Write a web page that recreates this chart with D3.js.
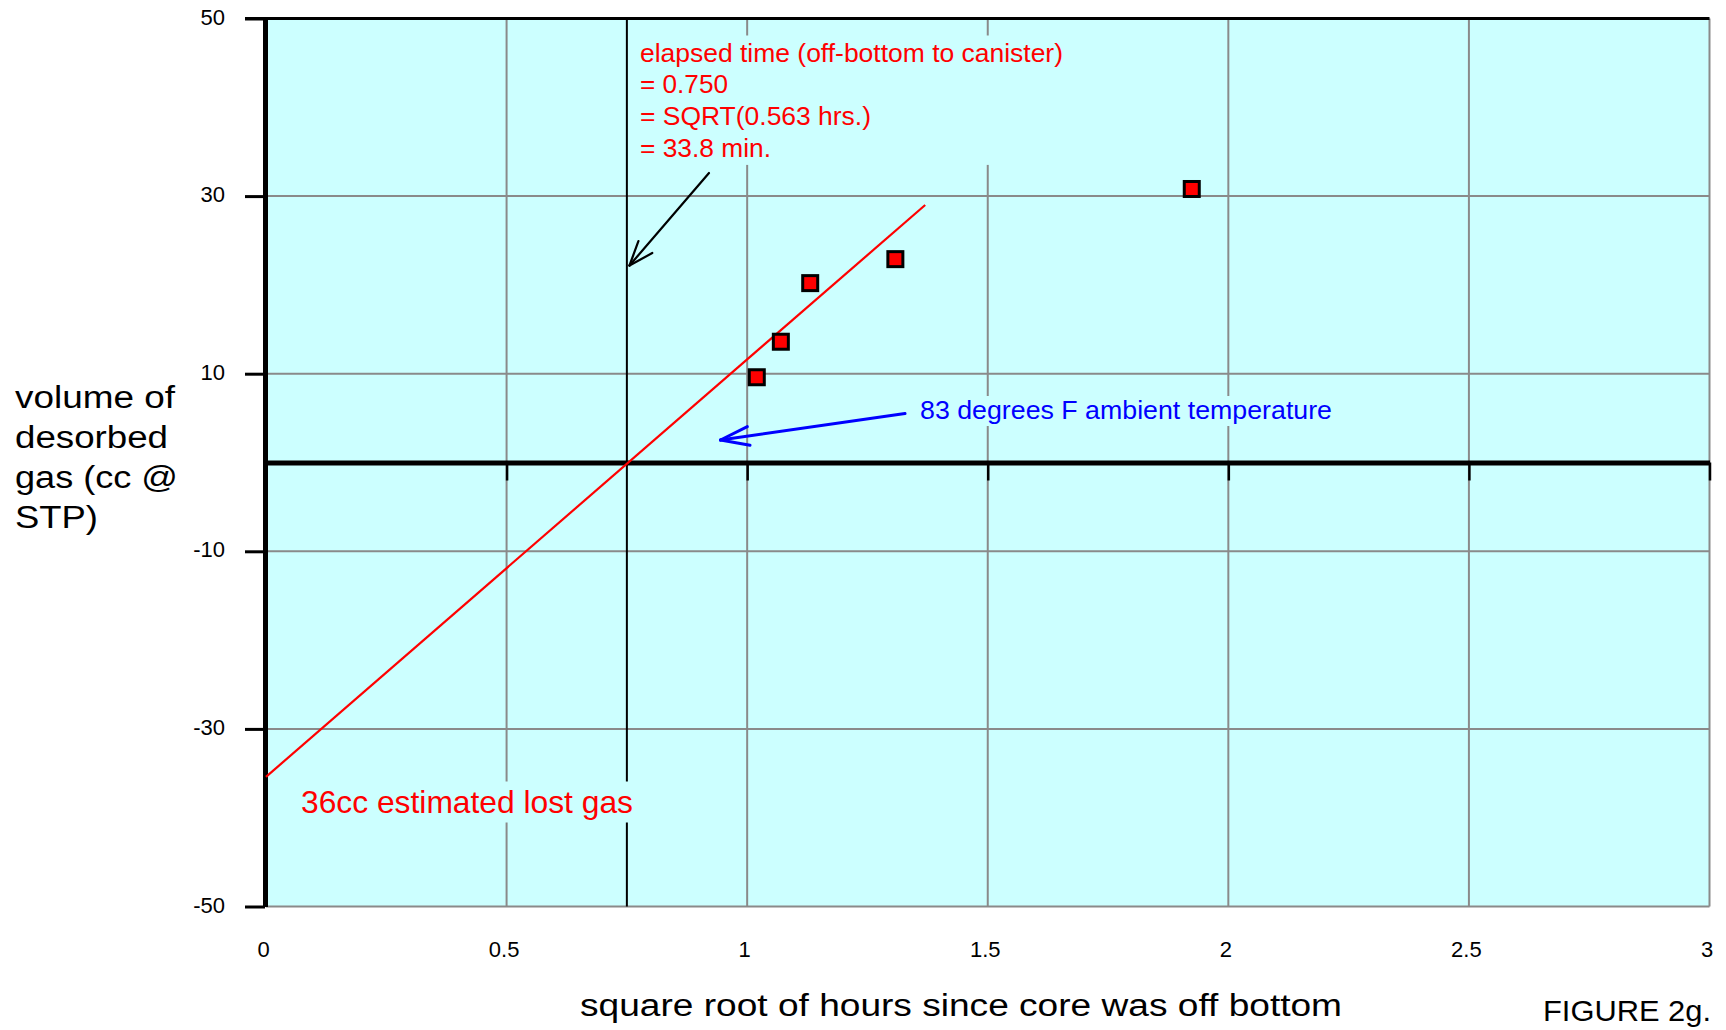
<!DOCTYPE html>
<html><head><meta charset="utf-8">
<script src="https://cdn.jsdelivr.net/npm/d3@7"></script>
<style>
body{margin:0;background:#fff}
svg{display:block}
text{font-family:"Liberation Sans",Arial,Helvetica,sans-serif}
</style>
</head><body>
<svg id="c" width="1726" height="1030"></svg>
<script>
// ---------- data ----------
const xTickValues = [0, 0.5, 1, 1.5, 2, 2.5, 3];
const xTickLabels = ["0", "0.5", "1", "1.5", "2", "2.5", "3"];
const yTickValues = [50, 30, 10, -10, -30, -50];
const yTickLabels = ["50", "30", "10", "-10", "-30", "-50"];
const yGridValues = [30, 10, -10, -30];
const xGridValues = [0.5, 1, 1.5, 2, 2.5];
const sqrtHours   = [1.020, 1.070, 1.131, 1.308, 1.924];
const desorbedGas = [9.6, 13.6, 20.2, 22.9, 30.8];
const fitX = [0, 1.37];
const fitY = [-35.4, 29.0];
const elapsedSqrtHours = 0.75;
const elapsedLines = ["elapsed time (off-bottom to canister)", "= 0.750", "= SQRT(0.563 hrs.)", "= 33.8 min."];
const lostGasLabel = "36cc estimated lost gas";
const tempLabel = "83 degrees F ambient temperature";
const yTitleLines = ["volume of", "desorbed", "gas (cc @", "STP)"];
const xTitle = "square root of hours since core was off bottom";
const figLabel = "FIGURE 2g.";

// ---------- layout ----------
const svg = d3.select("#c");
const x = d3.scaleLinear().domain([0, 3]).range([266, 1709.5]);
const y = d3.scaleLinear().domain([-50, 50]).range([906.5, 18.5]);
const BG = "#ccffff", GRID = "#8a8a8a";

// plot background
svg.append("rect").attr("x", x(0)).attr("y", y(50))
  .attr("width", x(3) - x(0)).attr("height", y(-50) - y(50)).attr("fill", BG);

// grid
const g = svg.append("g");
g.selectAll(".hg").data(yGridValues.concat([-50])).join("line")
  .attr("x1", x(0)).attr("x2", x(3)).attr("y1", d => y(d)).attr("y2", d => y(d))
  .attr("stroke", GRID).attr("stroke-width", 2);
g.selectAll(".vg").data(xGridValues.concat([3])).join("line")
  .attr("x1", d => x(d)).attr("x2", d => x(d)).attr("y1", y(50)).attr("y2", y(-50))
  .attr("stroke", GRID).attr("stroke-width", 2);

// elapsed time vertical line
svg.append("line").attr("x1", x(elapsedSqrtHours)).attr("x2", x(elapsedSqrtHours))
  .attr("y1", y(50)).attr("y2", y(-50)).attr("stroke", "#000").attr("stroke-width", 2);

// text with background boxes (they hide the grid)
function boxedText(lines, opts) {
  const grp = svg.append("g");
  const rect = grp.append("rect").attr("fill", BG);
  const t = grp.append("text").attr("fill", opts.color).attr("font-size", opts.size);
  lines.forEach((ln, i) => {
    const ts = t.append("tspan").attr("x", opts.x).attr("y", opts.y + i * (opts.lh || 0)).text(ln);
    if (opts.lengths && opts.lengths[i]) ts.attr("textLength", opts.lengths[i]).attr("lengthAdjust", "spacingAndGlyphs");
  });
  const bb = t.node().getBBox();
  const p = opts.pad || [3, 3, 3, 3];
  rect.attr("x", bb.x - p[3]).attr("y", bb.y - p[0])
    .attr("width", bb.width + p[1] + p[3]).attr("height", bb.height + p[0] + p[2]);
}
boxedText(elapsedLines, {x: 640, y: 61.5, lh: 31.8, size: 25, color: "#ff0000",
  lengths: [423, 88, 231, 131], pad: [3, 6, 3, 4]});
boxedText([tempLabel], {x: 920, y: 419, size: 25.5, color: "#0000ff", lengths: [412], pad: [0, 6, 2, 5]});
boxedText([lostGasLabel], {x: 301, y: 812.5, size: 32, color: "#ff0000", lengths: [332], pad: [2, 8, 3, 8]});

// top border
svg.append("line").attr("x1", 245).attr("x2", x(3)).attr("y1", y(50)).attr("y2", y(50))
  .attr("stroke", "#000").attr("stroke-width", 3);

// y axis
const yAxis = d3.axisLeft(y).tickValues(yTickValues)
  .tickFormat((d, i) => yTickLabels[i]).tickSize(20).tickPadding(20).tickSizeOuter(0);
const ya = svg.append("g").attr("transform", `translate(${x(0) - 1},0)`).call(yAxis);
ya.select(".domain").attr("stroke", "#000").attr("stroke-width", 5);
ya.selectAll(".tick line").attr("stroke", "#000").attr("stroke-width", 3);
ya.selectAll(".tick text").attr("font-size", 22).attr("fill", "#000").attr("dy", "0.25em")
  .attr("font-family", '"Liberation Sans",Arial,sans-serif');

// zero line with ticks
const zAxis = d3.axisBottom(x).tickValues(xTickValues.slice(1)).tickSize(18).tickSizeOuter(0).tickFormat("");
const za = svg.append("g").attr("transform", `translate(0,${y(0)})`).call(zAxis);
za.select(".domain").attr("stroke", "#000").attr("stroke-width", 5);
za.selectAll(".tick line").attr("stroke", "#000").attr("stroke-width", 2.5);

// x tick labels at bottom
const xAxis = d3.axisBottom(x).tickValues(xTickValues)
  .tickFormat((d, i) => xTickLabels[i]).tickSize(0).tickPadding(35);
const xa = svg.append("g").attr("transform", `translate(-3,${y(-50)})`).call(xAxis);
xa.select(".domain").remove();
xa.selectAll(".tick text").attr("font-size", 22).attr("fill", "#000")
  .attr("font-family", '"Liberation Sans",Arial,sans-serif');

// fit line
svg.append("line").attr("x1", x(fitX[0])).attr("y1", y(fitY[0]))
  .attr("x2", x(fitX[1])).attr("y2", y(fitY[1]))
  .attr("stroke", "#ff0000").attr("stroke-width", 2.2);

// arrows
function arrow(x1, y1, x2, y2, color, w, len, ang) {
  const a = Math.atan2(y1 - y2, x1 - x2);
  const gA = svg.append("g").attr("stroke", color).attr("stroke-width", w).attr("fill", "none")
    .attr("stroke-linecap", "round");
  gA.append("line").attr("x1", x1).attr("y1", y1).attr("x2", x2).attr("y2", y2);
  [ang, -ang].forEach(da => {
    gA.append("line").attr("x1", x2).attr("y1", y2)
      .attr("x2", x2 + len * Math.cos(a + da)).attr("y2", y2 + len * Math.sin(a + da));
  });
}
arrow(709, 173, 629.5, 265.5, "#000", 2.2, 26, 0.36);
arrow(905, 413.5, 720.5, 440, "#0000ff", 3, 30, 0.32);

// data points
svg.append("g").selectAll("rect").data(sqrtHours).join("rect")
  .attr("x", (d, i) => x(d) - 7.5).attr("y", (d, i) => y(desorbedGas[i]) - 7.5)
  .attr("width", 15).attr("height", 15)
  .attr("fill", "#ff0000").attr("stroke", "#000").attr("stroke-width", 3);

// titles
const yt = svg.append("text").attr("font-size", 31).attr("fill", "#000");
const yTitleLens = [160, 153, 163, 83];
yTitleLines.forEach((ln, i) => {
  yt.append("tspan").attr("x", 15).attr("y", 407.5 + i * 40).text(ln)
    .attr("textLength", yTitleLens[i]).attr("lengthAdjust", "spacingAndGlyphs");
});
svg.append("text").attr("x", 580).attr("y", 1016).attr("font-size", 31).attr("fill", "#000")
  .attr("textLength", 762).attr("lengthAdjust", "spacingAndGlyphs").text(xTitle);
svg.append("text").attr("x", 1543).attr("y", 1021).attr("font-size", 30).attr("fill", "#000")
  .attr("textLength", 168).attr("lengthAdjust", "spacingAndGlyphs").text(figLabel);
</script>
</body></html>
